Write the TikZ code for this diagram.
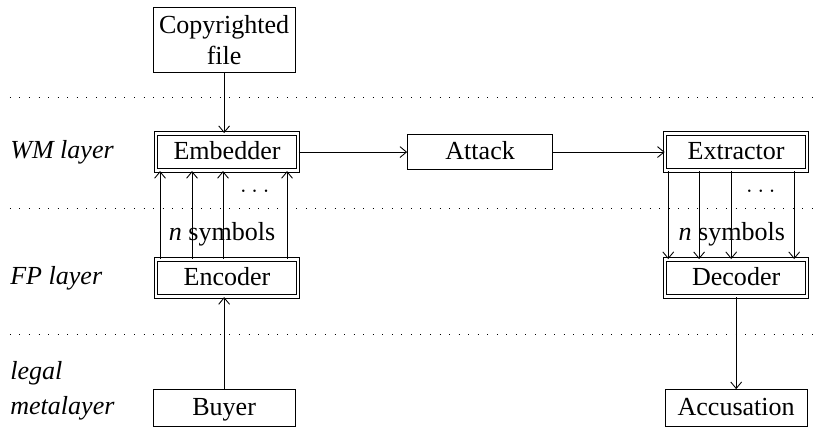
\documentclass[tikz,border=0pt,12pt]{standalone}
\usepackage{fontspec}
\setmainfont{Liberation Serif}
\usepackage{tikz}
\usetikzlibrary{positioning, calc, arrows.meta}

\begin{document}
\begin{tikzpicture}[
    >={Straight Barb[length=3pt,width=5pt]},
    box/.style={draw, rectangle, minimum width=2.3cm, minimum height=0.6cm, inner sep=2pt, align=center, fill=white},
    oneline/.style={box, text height=1.7ex, text depth=0.45ex},
    dbox/.style={oneline, double, line width=0.45pt, double distance=1.1pt, minimum width=2.3cm},
    layer/.style={anchor=west, align=left, font=\itshape, inner sep=0pt},
    sep/.style={loosely dotted}
]
    \useasboundingbox (0,0) rectangle (13.2,6.934);

    % --- LAYER SEPARATORS ---
    \draw[sep] (0.16,5.362) -- (13.2,5.362);
    \draw[sep] (0.16,3.564) -- (13.2,3.564);
    \draw[sep] (0.16,1.523) -- (13.2,1.523);

    % --- LAYER NAMES ---
    \node[layer] (wm) at (0.16,4.471) {WM layer};
    \node[layer] (fp) at (0.16,2.43) {FP layer};
    \node[layer] (legal) at (0.16,0.6) {legal\\[1.5pt]metalayer};

    % --- LEFT COLUMN ---
    \node[box, minimum height=1.05cm] (copy) at (3.63,6.286) {Copyrighted\\file};
    \node[dbox] (embedder) at (3.677,4.471) {Embedder};
    \node[dbox] (encoder) at (3.677,2.43) {Encoder};
    \node[oneline] (buyer) at (3.63,0.324) {Buyer};

    \draw[->] (copy) -- (copy |- embedder.north);
    \draw[->] (buyer) -- (buyer |- encoder.south);

    % n symbols, encoder up to embedder
    \foreach \dx in {-1.085,-0.567,-0.065,0.972}
        \draw[->] ([xshift=\dx cm]encoder.north) -- ([xshift=\dx cm]embedder.south);
    \node (ldots) at ($(embedder.south)+(0.45,-0.32)$) {$\dots$};
    \node[inner sep=1pt] (lsym) at ($(encoder.north)+(-0.08,0.4)$) {\textit{n} symbols};

    % --- MIDDLE ---
    \node[oneline, minimum width=2.35cm, minimum height=0.57cm] (attack) at (7.776,4.471) {Attack};
    \draw[->] (embedder) -- (attack);

    % --- RIGHT COLUMN ---
    \node[dbox] (extractor) at (11.923,4.471) {Extractor};
    \node[dbox] (decoder) at (11.923,2.43) {Decoder};
    \node[oneline] (accusation) at (11.923,0.324) {Accusation};

    \draw[->] (attack) -- (extractor);
    \draw[->] (decoder) -- (accusation);

    % n symbols, extractor down to decoder
    \foreach \dx in {-1.1,-0.6,-0.08,0.94}
        \draw[->] ([xshift=\dx cm]extractor.south) -- ([xshift=\dx cm]decoder.north);
    \node (rdots) at ($(extractor.south)+(0.4,-0.32)$) {$\dots$};
    \node[inner sep=1pt] (rsym) at ($(decoder.north)+(-0.07,0.4)$) {\textit{n} symbols};

\end{tikzpicture}
\end{document}
